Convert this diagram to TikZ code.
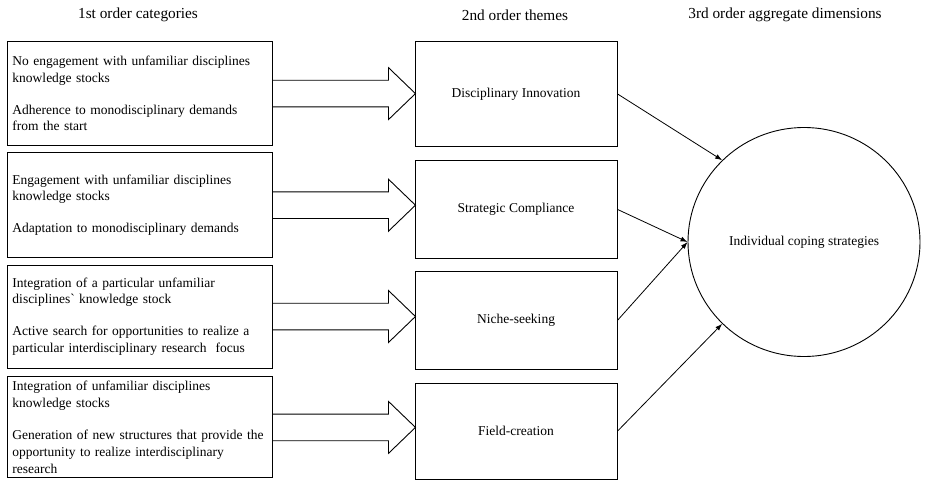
\documentclass[tikz,border=0pt]{standalone}
\usepackage{fontspec}
\setmainfont{Liberation Serif}
\usetikzlibrary{arrows.meta,shapes.geometric}
\begin{document}
\begin{tikzpicture}[x=1pt,y=-1pt,
  txt/.style={font=\fontsize{13.5}{16.8}\selectfont},
  catbox/.style={txt,draw,line width=0.9pt,minimum width=265pt,text width=254pt,align=left,inner sep=0pt},
  themebox/.style={txt,draw,line width=0.9pt,minimum width=202pt,inner sep=0pt},
  dimcircle/.style={txt,draw,ellipse,line width=0.9pt,minimum width=232pt,minimum height=229pt,inner sep=0pt},
  head/.style={font=\fontsize{15.3}{18}\selectfont},
  blockarrow/.style={draw,line width=0.9pt,line join=miter},
  link/.style={draw,line width=0.8pt,-{Latex[length=7pt,width=5pt]}}
]
\useasboundingbox[fill=white] (0,0) rectangle (925,481);

\node[head] (h1) at (138,15) {1st order categories};
\node[head] (h2) at (515,15) {2nd order themes};
\node[head] (h3) at (785,15) {3rd order aggregate\ dimensions};

\node[catbox,minimum height=104pt] (L1) at (139.5,93.6)
  {No engagement with unfamiliar disciplines\\knowledge stocks\\[15pt]Adherence to monodisciplinary demands\\from the start};
\node[catbox,minimum height=105pt] (L2) at (139.5,205.2)
  {Engagement with unfamiliar disciplines\\knowledge stocks\\[15pt]Adaptation to monodisciplinary demands};
\node[catbox,minimum height=103pt] (L3) at (139.5,316.5)
  {Integration of a particular unfamiliar\\disciplines\textasciigrave\ knowledge stock\\[15pt]Active search for opportunities to realize a\\particular interdisciplinary research\ \ focus};
\node[catbox,minimum height=101pt] (L4) at (139.5,427.4)
  {Integration of unfamiliar disciplines\\knowledge stocks\\[15pt]Generation of new structures that provide the\\opportunity to realize interdisciplinary\\research};

\node[themebox,minimum height=104.3pt] (M1) at (516,93.9) {Disciplinary Innovation};
\node[themebox,minimum height=97.3pt] (M2) at (516,209.4) {Strategic Compliance};
\node[themebox,minimum height=97.3pt] (M3) at (516,320.4) {Niche-seeking};
\node[themebox,minimum height=96pt] (M4) at (516,431.2) {Field-creation};

\node[dimcircle] (C) at (804,242) {Individual coping strategies};

\foreach \i in {1,2,3,4}{
  \draw[blockarrow] (L\i.east) ++(0,-13.3) -- ++(116,0) -- ++(0,-12.7)
    -- ++(27,26) -- ++(-27,26) -- ++(0,-12.7) -- ++(-116,0);
}

\draw[link] (M1.east) -- (C.135);
\draw[link] (M2.east) -- (C.180);
\draw[link] (M3.east) -- (C.180);
\draw[link] (M4.east) -- (C.225);
\end{tikzpicture}
\end{document}
